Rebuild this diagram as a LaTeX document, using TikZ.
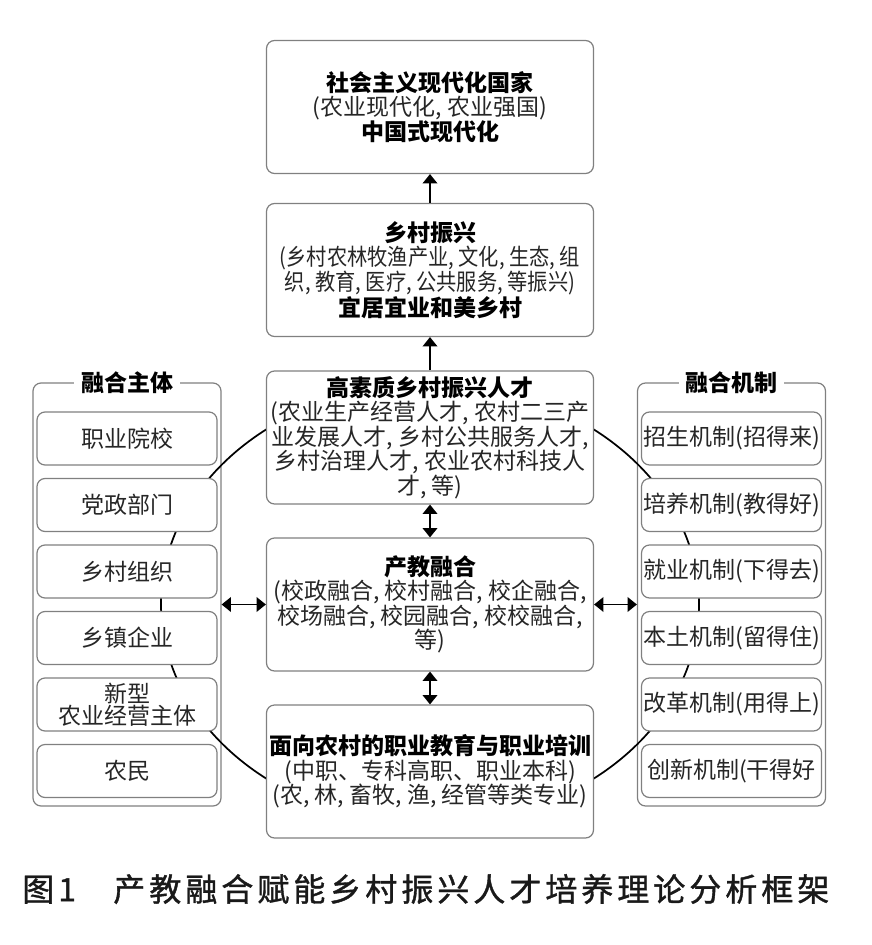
\documentclass[tikz,border=0pt]{standalone}
\usepackage{fontspec}
\usepackage{graphicx}
\setmainfont{Noto Sans CJK SC}
\usetikzlibrary{arrows.meta}

\newcommand{\squeeze}[1]{\scalebox{0.88}[1]{#1}}

\tikzset{
  box/.style={draw=black!50, line width=0.9pt, rounded corners=6pt, fill=white,
    align=center, inner sep=0pt, text=black!85,
    font=\fontsize{17.25}{18.3}\selectfont},
  mainbox/.style={box, minimum width=245.25pt, minimum height=99.75pt},
  itembox/.style={box, minimum width=135pt, minimum height=39.75pt},
  panel/.style={draw=black!50, line width=0.9pt, rounded corners=6pt,
    minimum width=141pt, minimum height=317.25pt, inner sep=0pt},
  paneltitle/.style={fill=white, inner xsep=5pt, inner ysep=1pt,
    font=\fontsize{17.25}{18.3}\selectfont\bfseries},
  link/.style={line width=1.1pt, -{Triangle[width=11pt,length=7pt]}},
  twoway/.style={line width=1.1pt,
    {Triangle[width=11pt,length=7pt]}-{Triangle[width=11pt,length=7pt]}}
}

\begin{document}
\begin{tikzpicture}[x=0.75pt,y=-0.75pt]
  \useasboundingbox (0,0) rectangle (871,945);

  % side panels
  \node[panel] (zhuti) at (127,594.5) {};
  \node[panel] (jizhi) at (731.5,594.5) {};
  \node[paneltitle] (zhutititle) at (zhuti.north) {融合主体};
  \node[paneltitle] (jizhititle) at (jizhi.north) {融合机制};

  % ring behind the boxes
  \coordinate (mid) at (430,604);
  \draw[line width=1.3pt] (mid) ellipse [x radius=201.75pt, y radius=165pt];

  \foreach \i/\txt in {1/职业院校,2/党政部门,3/乡村组织,4/乡镇企业,
      5/{新型\\[-1.9pt]农业经营主体},6/农民}
    \node[itembox] (zt\i) at (127,{372+66.5*\i}) {\txt};
  \foreach \i/\txt in {1/招生机制(招得来),2/培养机制(教得好),3/就业机制(下得去),
      4/本土机制(留得住),5/改革机制(用得上),6/创新机制(干得好}
    \node[itembox] (jz\i) at (731.5,{372+66.5*\i}) {\txt};

  % centre column
  \node[mainbox] (guojia) at (430,107)
    {\textbf{\color{black}社会主义现代化国家}\\(农业现代化, 农业强国)\\\textbf{\color{black}中国式现代化}};
  \node[mainbox] (zhenxing) at (430,270)
    {\textbf{\color{black}乡村振兴}\\\squeeze{(乡村农林牧渔产业, 文化, 生态, 组}\\
     \squeeze{织, 教育, 医疗, 公共服务, 等振兴)}\\\textbf{\color{black}宜居宜业和美乡村}};
  \node[mainbox] (rencai) at (430,437.5)
    {\textbf{\color{black}高素质乡村振兴人才}\\(农业生产经营人才, 农村二三产\\业发展人才, 乡村公共服务人才,\\
     乡村治理人才, 农业农村科技人\\才, 等)};
  \node[mainbox] (ronghe) at (430,604.5)
    {\textbf{\color{black}产教融合}\\(校政融合, 校村融合, 校企融合,\\校场融合, 校园融合, 校校融合,\\等)};
  \node[mainbox] (jiaoyu) at (430,771.5)
    {\textbf{\color{black}面向农村的职业教育与职业培训}\\(中职、专科高职、职业本科)\\(农, 林, 畜牧, 渔, 经管等类专业)};

  \draw[link] (zhenxing) -- (guojia);
  \draw[link] (rencai) -- (zhenxing);
  \draw[twoway] (rencai) -- (ronghe);
  \draw[twoway] (ronghe) -- (jiaoyu);
  \draw[twoway] (zhuti.east |- ronghe.west) -- (ronghe.west);
  \draw[twoway] (ronghe.east) -- (jizhi.west |- ronghe.east);

  \node[anchor=west, inner sep=0pt, text=black!90,
    font=\fontsize{24}{28}\selectfont\addfontfeature{LetterSpace=12.5,FakeBold=1.2}]
    (caption) at (22,889) {图1\hspace{28pt}产教融合赋能乡村振兴人才培养理论分析框架};
\end{tikzpicture}
\end{document}
